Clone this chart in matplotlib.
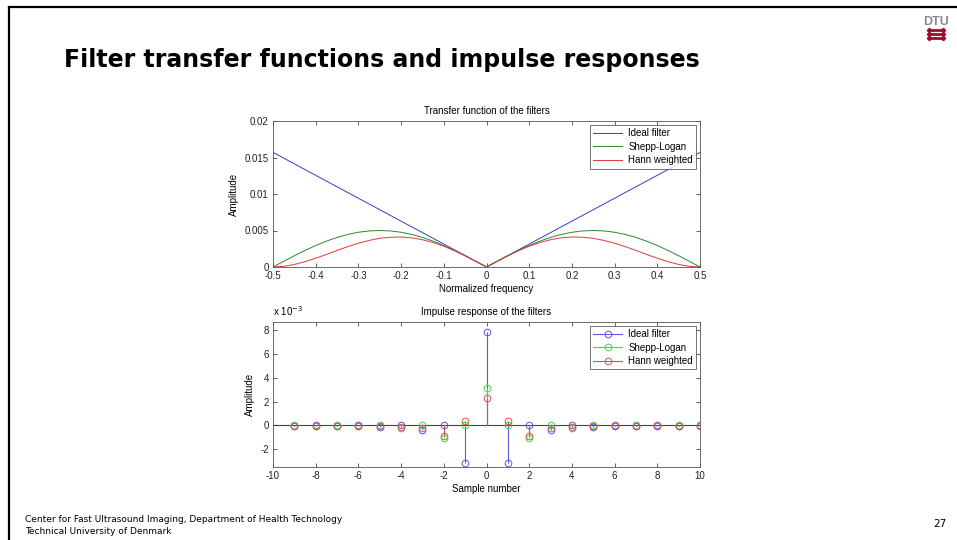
import matplotlib
matplotlib.use("Agg")
import matplotlib.pyplot as plt
from matplotlib.lines import Line2D

# transfer functions
freq = [-0.5, -0.475, -0.45, -0.425, -0.4, -0.375, -0.35, -0.325, -0.3, -0.275,
        -0.25, -0.225, -0.2, -0.175, -0.15, -0.125, -0.1, -0.075, -0.05, -0.025,
        0.0, 0.025, 0.05, 0.075, 0.1, 0.125, 0.15, 0.175, 0.2, 0.225,
        0.25, 0.275, 0.3, 0.325, 0.35, 0.375, 0.4, 0.425, 0.45, 0.475, 0.5]
freq_ideal = [-0.5, 0.0, 0.5]
ideal = [0.0157, 0.0, 0.0157]
shepp = [0.0, 0.00078, 0.00155, 0.00227, 0.00294, 0.00354, 0.00405, 0.00446, 0.00476, 0.00494,
         0.00500, 0.00494, 0.00476, 0.00446, 0.00405, 0.00354, 0.00294, 0.00227, 0.00155, 0.00078,
         0.0, 0.00078, 0.00155, 0.00227, 0.00294, 0.00354, 0.00405, 0.00446, 0.00476, 0.00494,
         0.00500, 0.00494, 0.00476, 0.00446, 0.00405, 0.00354, 0.00294, 0.00227, 0.00155, 0.00078, 0.0]
hann = [0.0, 0.00009, 0.00035, 0.00073, 0.00120, 0.00172, 0.00227, 0.00279, 0.00325, 0.00364,
        0.00393, 0.00408, 0.00411, 0.00399, 0.00374, 0.00335, 0.00284, 0.00223, 0.00153, 0.00078,
        0.0, 0.00078, 0.00153, 0.00223, 0.00284, 0.00335, 0.00374, 0.00399, 0.00411, 0.00408,
        0.00393, 0.00364, 0.00325, 0.00279, 0.00227, 0.00172, 0.00120, 0.00073, 0.00035, 0.00009, 0.0]

# impulse responses (lower plot)
samples = [-9, -8, -7, -6, -5, -4, -3, -2, -1, 0, 1, 2, 3, 4, 5, 6, 7, 8, 9, 10]
ideal_h = [-0.00004, 0.0, -0.00006, 0.0, -0.00013, 0.0, -0.00035, 0.0, -0.00318, 0.00785,
           -0.00318, 0.0, -0.00035, 0.0, -0.00013, 0.0, -0.00006, 0.0, -0.00004, 0.0]
shepp_h = [0.0, -0.00005, 0.0, -0.00009, 0.0, -0.00021, 0.0, -0.00106, 0.0, 0.00318,
           0.0, -0.00106, 0.0, -0.00021, 0.0, -0.00009, 0.0, -0.00005, 0.0, -0.00003]
hann_h = [-0.00002, -0.00003, -0.00003, -0.00005, -0.00006, -0.00012, -0.00018, -0.00088, 0.00037, 0.00234,
          0.00037, -0.00088, -0.00018, -0.00012, -0.00006, -0.00005, -0.00003, -0.00003, -0.00002, -0.00001]

names = ["Ideal filter", "Shepp-Logan", "Hann weighted"]
line_colors = ["#3a3ad0", "#2a8a2a", "#e03a3a"]
stem_colors = ["#5a5ae0", "#48d448", "#e05050"]

plt.rcParams["font.family"] = ["Liberation Sans", "DejaVu Sans"]
plt.rcParams["font.size"] = 7
plt.rcParams["axes.unicode_minus"] = False

W, H = 957, 540
fig = plt.figure(figsize=(W / 100, H / 100), dpi=100)


def px(x0, y0, x1, y1):
    return [x0 / W, 1 - y1 / H, (x1 - x0) / W, (y1 - y0) / H]


def matlab_axes(ax):
    ax.tick_params(direction="in", top=True, right=True, length=3, width=0.5,
                   labelsize=7, pad=3, colors="#222222")
    for s in ax.spines.values():
        s.set_linewidth(0.6)
        s.set_color("#555555")


# upper axes: transfer functions
ax1 = fig.add_axes(px(273, 121, 700, 267))
ax1.plot(freq_ideal, ideal, color=line_colors[0], lw=0.7, label=names[0])
ax1.plot(freq, shepp, color=line_colors[1], lw=0.7, label=names[1])
ax1.plot(freq, hann, color=line_colors[2], lw=0.7, label=names[2])
ax1.set_xlim(-0.5, 0.5)
ax1.set_ylim(0, 0.02)
ax1.set_xticks([-0.5, -0.4, -0.3, -0.2, -0.1, 0, 0.1, 0.2, 0.3, 0.4, 0.5])
ax1.set_xticklabels(["-0.5", "-0.4", "-0.3", "-0.2", "-0.1", "0", "0.1", "0.2", "0.3", "0.4", "0.5"])
ax1.set_yticks([0, 0.005, 0.01, 0.015, 0.02])
ax1.set_yticklabels(["0", "0.005", "0.01", "0.015", "0.02"])
ax1.set_title("Transfer function of the filters", fontsize=7, pad=5)
ax1.set_xlabel("Normalized frequency", fontsize=7, labelpad=2)
ax1.set_ylabel("Amplitude", fontsize=7, labelpad=4)
matlab_axes(ax1)
leg1 = ax1.legend(loc="upper right", fontsize=7, frameon=True, fancybox=False,
                  handlelength=3.0, handletextpad=0.6, borderaxespad=0.4,
                  labelspacing=0.35, borderpad=0.35)
leg1.get_frame().set_edgecolor("#333333")
leg1.get_frame().set_linewidth(0.6)

# lower axes: impulse responses
ax2 = fig.add_axes(px(273, 322, 700, 467))
ax2.axhline(0, color="#444444", lw=0.8, zorder=1)
handles = []
for h, c, name in zip([ideal_h, shepp_h, hann_h], stem_colors, names):
    ax2.vlines(samples, 0, h, color=c, lw=0.8, snap=True, zorder=2)
    ax2.plot(samples, h, "o", mfc="none", mec=c, ms=4.8, mew=0.7, zorder=3)
    handles.append(Line2D([], [], color=c, lw=0.8, marker="o", mfc="none",
                          mec=c, ms=4.8, mew=0.7, label=name))
ax2.set_xlim(-10, 10)
ax2.set_ylim(-0.0035, 0.0087)
ax2.set_xticks([-10, -8, -6, -4, -2, 0, 2, 4, 6, 8, 10])
ax2.set_yticks([-0.002, 0, 0.002, 0.004, 0.006, 0.008])
ax2.set_yticklabels(["-2", "0", "2", "4", "6", "8"])
ax2.set_title("Impulse response of the filters", fontsize=7, pad=5)
ax2.set_xlabel("Sample number", fontsize=7, labelpad=2)
ax2.set_ylabel("Amplitude", fontsize=7, labelpad=4)
ax2.text(0.0, 1.025, r"x 10$^{-3}$", transform=ax2.transAxes, fontsize=7,
         ha="left", va="bottom")
matlab_axes(ax2)
leg2 = ax2.legend(handles=handles, loc="upper right", fontsize=7, frameon=True,
                  fancybox=False, handlelength=3.0, handletextpad=0.6,
                  borderaxespad=0.4, labelspacing=0.35, borderpad=0.35)
leg2.get_frame().set_edgecolor("#333333")
leg2.get_frame().set_linewidth(0.6)

# slide decoration
fig.add_artist(Line2D([9 / W, 1], [1 - 7 / H, 1 - 7 / H], color="black", lw=1.6))
fig.add_artist(Line2D([9 / W, 9 / W], [0, 1 - 7 / H], color="black", lw=1.6))
fig.text(64 / W, 1 - 60 / H, "Filter transfer functions and impulse responses",
         fontsize=17, fontweight="bold", family="DejaVu Sans", va="center", ha="left")
fig.text(25 / W, 1 - 519 / H,
         "Center for Fast Ultrasound Imaging, Department of Health Technology",
         fontsize=6.5, family="DejaVu Sans", va="center", ha="left")
fig.text(25 / W, 1 - 531 / H, "Technical University of Denmark",
         fontsize=6.5, family="DejaVu Sans", va="center", ha="left")
fig.text(946 / W, 1 - 524 / H, "27", fontsize=7.5, family="DejaVu Sans",
         va="center", ha="right")

# DTU logo
fig.text(936 / W, 1 - 22 / H, "DTU", fontsize=9, color="#8a8a8a",
         fontweight="bold", va="center", ha="center")
for yy in [30, 34, 38]:
    fig.add_artist(Line2D([929 / W, 943 / W], [1 - yy / H, 1 - yy / H],
                          color="#990f2a", lw=2.0, marker="D", ms=2.2,
                          markevery=[0, 1], solid_capstyle="butt"))

fig.savefig("out.png", dpi=100)
